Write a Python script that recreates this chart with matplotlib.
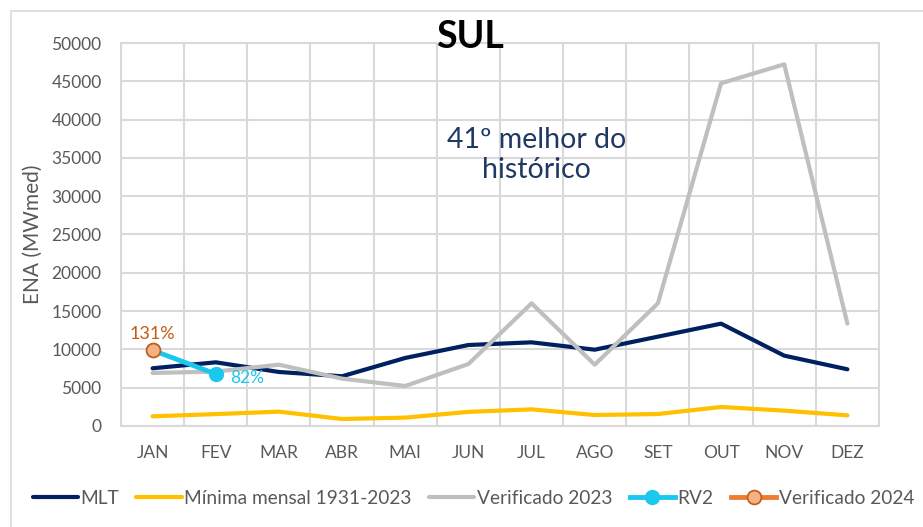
import matplotlib.pyplot as plt
from matplotlib.patches import Rectangle

plt.rcParams['font.family'] = ['Lato', 'DejaVu Sans']

# data
meses = ["JAN", "FEV", "MAR", "ABR", "MAI", "JUN", "JUL", "AGO", "SET", "OUT", "NOV", "DEZ"]
mlt = [7530, 8310, 7050, 6490, 8880, 10570, 10920, 9960, 11660, 13360, 9180, 7400]
minima = [1260, 1550, 1870, 910, 1090, 1840, 2170, 1430, 1560, 2480, 2000, 1390]
verif_2023 = [6920, 7100, 8000, 6180, 5220, 8090, 16010, 8000, 16010, 44740, 47220, 13360]
rv2 = [9880, 6790]
verif_2024 = [9880]
rv2_labels = ["", "82%"]
v2024_labels = ["131%"]

fig = plt.figure(figsize=(9.23, 5.27), dpi=100)
ax = fig.add_axes([0.1311, 0.1917, 0.8212, 0.7267])

# light border around the whole chart
fig.patches.append(Rectangle((0.012, -0.01), 1.0, 0.99, transform=fig.transFigure,
                             fill=False, edgecolor="#D9D9D9", linewidth=1.2))

x = list(range(len(meses)))
ax.plot(x, mlt, color="#002060", lw=3, label="MLT", solid_capstyle="round")
ax.plot(x, minima, color="#FFC000", lw=3, label="Mínima mensal 1931-2023", solid_capstyle="round")
ax.plot(x, verif_2023, color="#BFBFBF", lw=3, label="Verificado 2023", solid_capstyle="round")
ax.plot(x[:len(rv2)], rv2, color="#1CC7EE", lw=3.5, marker="o", ms=10,
        mfc="#1CC7EE", mec="#1CC7EE", label="RV2")
ax.plot(x[:len(verif_2024)], verif_2024, color="#ED7D31", lw=3.5, marker="o", ms=10,
        mfc="#F4B183", mec="#C55A11", mew=1.2, label="Verificado 2024")

for i, t in enumerate(rv2_labels):
    if t:
        ax.annotate(t, (x[i], rv2[i]), xytext=(10, -3), textcoords="offset points",
                    color="#1CC7EE", fontsize=12.5, va="center", ha="left")
for i, t in enumerate(v2024_labels):
    ax.annotate(t, (x[i], verif_2024[i]), xytext=(0, 6), textcoords="offset points",
                color="#C55A11", fontsize=13, va="bottom", ha="center")

ax.set_xlim(-0.5, 11.5)
ax.set_ylim(0, 50000)
ax.set_yticks(range(0, 50001, 5000))
ax.set_xticks(x)
ax.set_xticklabels(meses)
ax.set_xticks([i - 0.5 for i in range(13)], minor=True)
ax.grid(True, which="major", axis="y", color="#D9D9D9", lw=1.5)
ax.grid(True, which="minor", axis="x", color="#D9D9D9", lw=1.5)
ax.set_axisbelow(True)
for s in ax.spines.values():
    s.set_color("#D9D9D9")
    s.set_linewidth(1.5)
ax.tick_params(which="both", length=0, colors="#595959", labelsize=12.5)
ax.tick_params(axis="x", pad=14)
ax.tick_params(axis="y", pad=14)
ax.set_ylabel("ENA (MWmed)", color="#595959", fontsize=15, labelpad=6)

fig.text(0.509, 0.93, "SUL", fontsize=27, fontweight="bold", ha="center", va="center", color="#000000")
fig.text(0.581, 0.706, "41º melhor do\nhistórico", fontsize=20.5, color="#203864",
         ha="center", va="center", linespacing=1.15)

leg = fig.legend(loc="center", bbox_to_anchor=(0.513, 0.055), ncol=5, frameon=False,
                 fontsize=13.8, handlelength=2.35, handletextpad=0.15, columnspacing=0.9)
for t in leg.get_texts():
    t.set_color("#595959")

fig.savefig("out.png", dpi=100)
